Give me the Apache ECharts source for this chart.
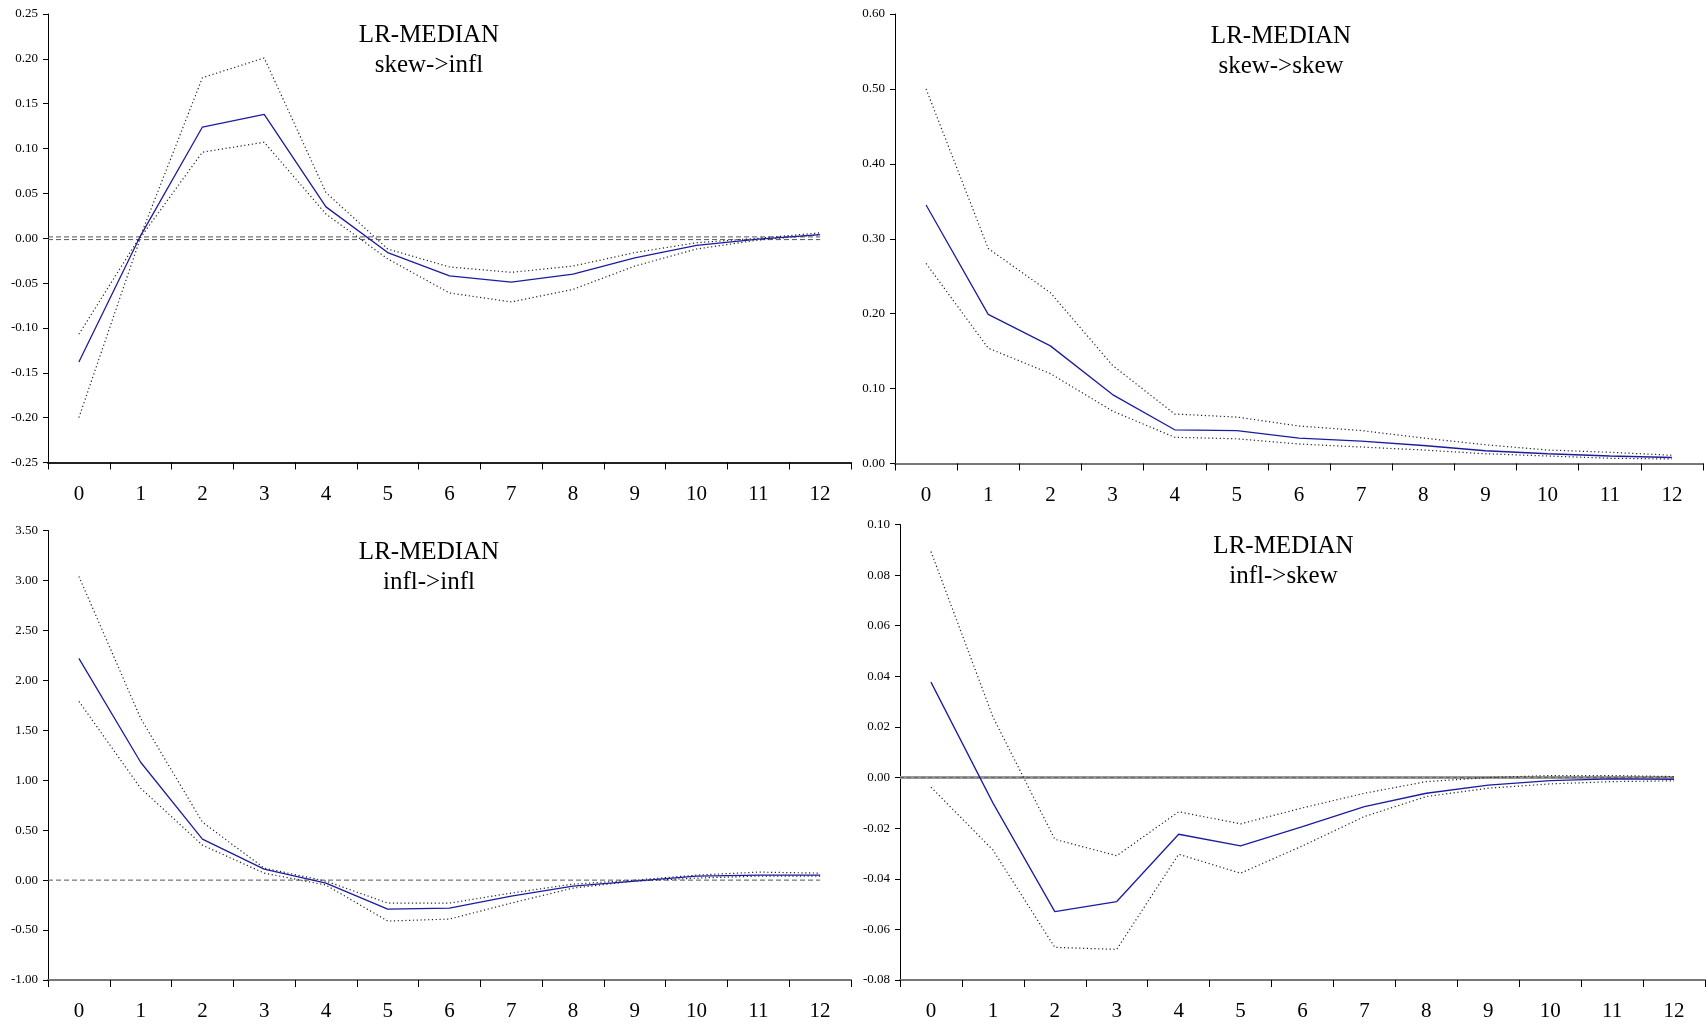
<!DOCTYPE html>
<html>
<head>
<meta charset="utf-8">
<script src="https://cdn.jsdelivr.net/npm/echarts@6/dist/echarts.min.js"></script>
<style>
html,body{margin:0;padding:0;background:#fff;}
#chart{width:1707px;height:1026px;}
</style>
</head>
<body>
<div id="chart"></div>
<script>
// Horizons (x-axis categories)
const horizons = ['0','1','2','3','4','5','6','7','8','9','10','11','12'];

// Panel titles
const titles = ['LR-MEDIAN\nskew->infl', 'LR-MEDIAN\nskew->skew', 'LR-MEDIAN\ninfl->infl', 'LR-MEDIAN\ninfl->skew'];

// skew -> infl
const skewInflMedian = [-0.138, 0.003, 0.124, 0.138, 0.035, -0.016, -0.042, -0.049, -0.040, -0.022, -0.008, -0.001, 0.004];
const skewInflBandA  = [-0.107, 0.003, 0.179, 0.201, 0.051, -0.012, -0.032, -0.038, -0.031, -0.016, -0.005, 0.000, 0.006];
const skewInflBandB  = [-0.200, 0.001, 0.096, 0.107, 0.027, -0.023, -0.061, -0.071, -0.057, -0.031, -0.012, -0.002, 0.004];

// skew -> skew
const skewSkewMedian = [0.345, 0.199, 0.157, 0.092, 0.045, 0.044, 0.034, 0.030, 0.024, 0.017, 0.013, 0.010, 0.008];
const skewSkewUpper  = [0.500, 0.287, 0.228, 0.131, 0.066, 0.062, 0.050, 0.044, 0.034, 0.025, 0.018, 0.015, 0.011];
const skewSkewLower  = [0.267, 0.154, 0.120, 0.070, 0.035, 0.033, 0.026, 0.022, 0.018, 0.013, 0.010, 0.007, 0.006];

// infl -> infl
const inflInflMedian = [2.22, 1.18, 0.41, 0.11, -0.03, -0.29, -0.28, -0.16, -0.06, -0.01, 0.04, 0.05, 0.05];
const inflInflUpper  = [3.04, 1.62, 0.58, 0.12, -0.01, -0.23, -0.23, -0.13, -0.04, 0.00, 0.05, 0.08, 0.07];
const inflInflLower  = [1.79, 0.92, 0.35, 0.07, -0.05, -0.41, -0.39, -0.23, -0.08, -0.01, 0.02, 0.04, 0.04];

// infl -> skew
const inflSkewMedian = [0.0377, -0.0100, -0.0530, -0.0490, -0.0224, -0.0270, -0.0194, -0.0115, -0.0062, -0.0030, -0.0012, -0.0005, -0.0007];
const inflSkewUpper  = [0.0893, 0.0240, -0.0244, -0.0309, -0.0135, -0.0183, -0.0120, -0.0062, -0.0016, 0.0000, 0.0008, 0.0008, 0.0004];
const inflSkewLower  = [-0.0038, -0.0286, -0.0671, -0.0679, -0.0303, -0.0378, -0.0270, -0.0154, -0.0075, -0.0042, -0.0025, -0.0016, -0.0013];

// y-axis ranges: [min, max, interval]
const yRanges = [[-0.25, 0.25, 0.05], [0, 0.6, 0.1], [-1, 3.5, 0.5], [-0.08, 0.10, 0.02]];

// reference lines at zero
const zeroLinesP1 = [0.0015, -0.0015];
const zeroLinesP3 = [0];
const zeroLinesP4 = [0];

const FONT = "'Liberation Serif', 'Times New Roman', serif";

const grids = [
  {left: 48, top: 14, width: 803, height: 448.5},
  {left: 895, top: 14, width: 808, height: 449.5},
  {left: 48, top: 530.5, width: 803, height: 449.5},
  {left: 900, top: 524.5, width: 805, height: 455.5}
];
const titlePos = [[424, 15.5], [1276, 16], [424, 532], [1278.5, 526]];
const xAxisColors = ['#222', '#777', '#777', '#777'];

const xAxes = grids.map((g, i) => ({
  type: 'category', gridIndex: i, data: horizons, boundaryGap: true,
  axisLine: {show: true, onZero: false, lineStyle: {color: xAxisColors[i], width: 2}},
  axisTick: {show: true, length: 7, inside: false, lineStyle: {color: '#000', width: 1}},
  axisLabel: {fontFamily: FONT, fontSize: 21, color: '#000', margin: 21},
  splitLine: {show: false}
}));
// hidden continuous x axes (same span as the category bands) for the zero reference lines
const lastIdx = horizons.length - 1;
[0, 2, 3].forEach(i => xAxes.push({type: 'value', gridIndex: i, min: -0.5, max: lastIdx + 0.5, show: false}));

const yAxes = grids.map((g, i) => ({
  type: 'value', gridIndex: i, min: yRanges[i][0], max: yRanges[i][1], interval: yRanges[i][2],
  axisLine: {show: true, onZero: false, lineStyle: {color: '#000', width: 1}},
  axisTick: {show: true, length: 5, lineStyle: {color: '#000', width: 1}},
  axisLabel: {fontFamily: FONT, fontSize: 13, color: '#000', margin: 10, formatter: v => v.toFixed(2)},
  splitLine: {show: false}
}));

function zeroSeries(values, xi, yi, style) {
  return values.map(v => ({type: 'line', xAxisIndex: xi, yAxisIndex: yi, symbol: 'none', silent: true,
    data: [[-0.5, v], [lastIdx, v]], lineStyle: style, z: 2}));
}
function band(data, i) {
  return {type: 'line', xAxisIndex: i, yAxisIndex: i, data: data, symbol: 'none', silent: true,
    lineStyle: {color: '#222', width: 1.2, type: [1.2, 2.6]}, z: 3};
}
function median(data, i) {
  return {type: 'line', xAxisIndex: i, yAxisIndex: i, data: data, symbol: 'none', silent: true,
    lineStyle: {color: '#1c1ca0', width: 1.3, type: 'solid'}, z: 4};
}
const dashStyle = {color: '#555', width: 1, type: [5, 3]};

const series = [].concat(
  zeroSeries(zeroLinesP1, 4, 0, dashStyle),
  [band(skewInflBandA, 0), band(skewInflBandB, 0), median(skewInflMedian, 0)],
  [band(skewSkewUpper, 1), band(skewSkewLower, 1), median(skewSkewMedian, 1)],
  zeroSeries(zeroLinesP3, 5, 2, dashStyle),
  [band(inflInflUpper, 2), band(inflInflLower, 2), median(inflInflMedian, 2)],
  zeroSeries(zeroLinesP4, 6, 3, {color: '#999', width: 3, type: 'solid'}),
  zeroSeries(zeroLinesP4, 6, 3, {color: '#666', width: 1, type: [4, 3]}),
  [band(inflSkewUpper, 3), band(inflSkewLower, 3), median(inflSkewMedian, 3)]
);

const chart = echarts.init(document.getElementById('chart'), null, {renderer: 'canvas'});
chart.setOption({
  animation: false,
  backgroundColor: '#fff',
  title: titles.map((t, i) => ({
    text: t, left: titlePos[i][0], top: titlePos[i][1], textAlign: 'center',
    textStyle: {fontFamily: FONT, fontSize: 25, fontWeight: 'normal', color: '#000', lineHeight: 30}
  })),
  grid: grids,
  xAxis: xAxes,
  yAxis: yAxes,
  series: series
});
</script>
</body>
</html>
